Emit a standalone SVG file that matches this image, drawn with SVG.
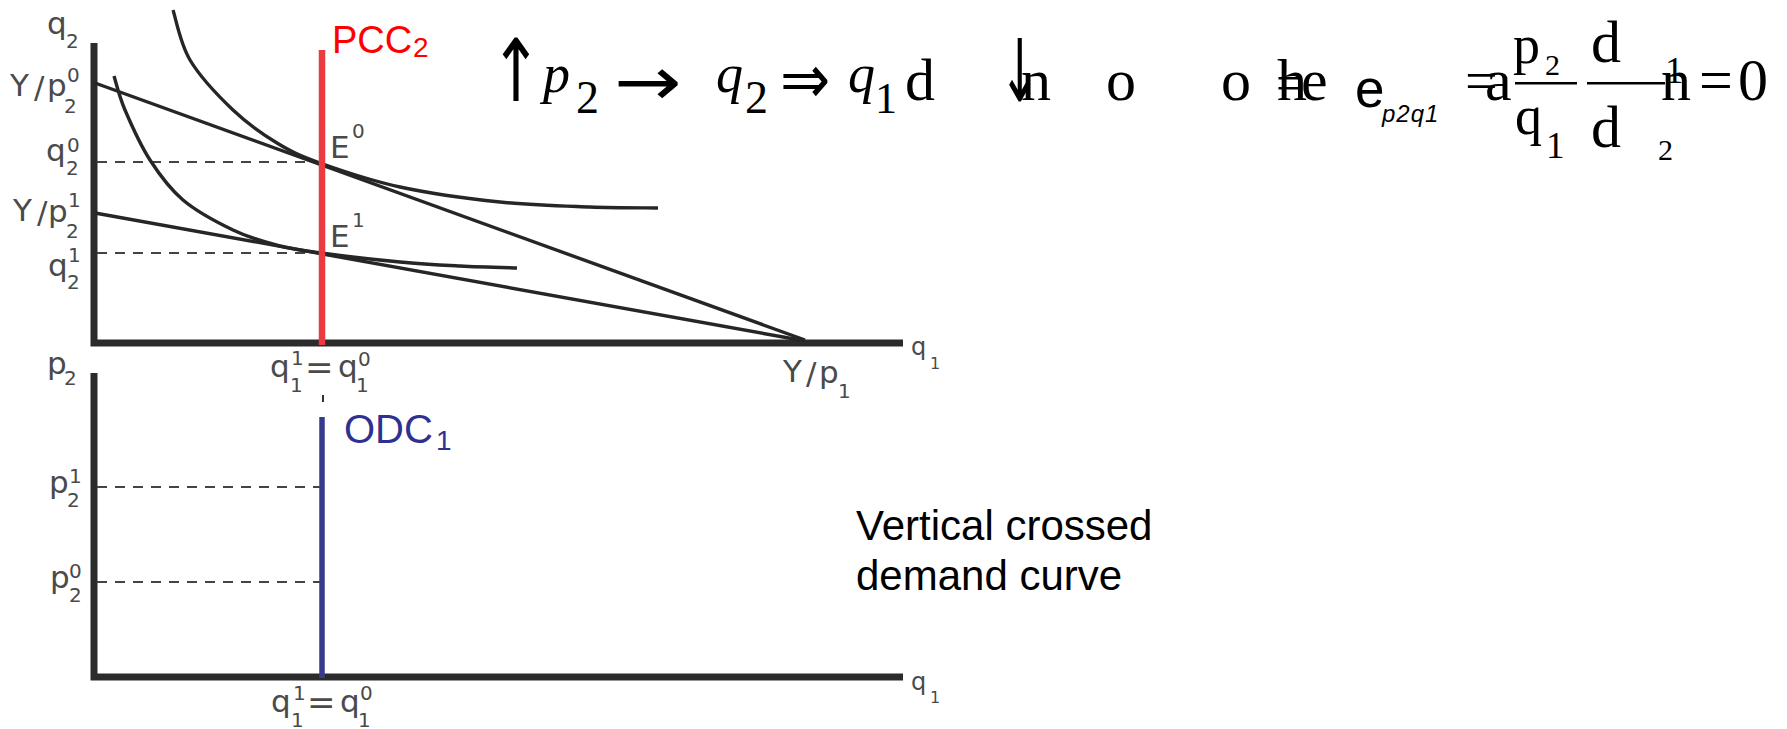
<svg xmlns="http://www.w3.org/2000/svg" width="1787" height="729" viewBox="0 0 1787 729">
<style>
.ax{stroke:#2b2b2b;stroke-width:7;fill:none;stroke-linejoin:miter}
.crv{stroke:#262626;stroke-width:3.4;fill:none}
.dash{stroke:#444;stroke-width:2.2;stroke-dasharray:10 8;fill:none}
.lbl{font-family:"DejaVu Sans",sans-serif;font-size:31px;fill:#4a4a4a}
.sm{font-size:20px}
.ax-l{font-family:"DejaVu Sans",sans-serif;font-size:24px;fill:#4a4a4a}
.ax-s{font-size:16px}
.eq{font-family:"Liberation Serif","Times New Roman","DejaVu Serif",serif;fill:#000}
.it{font-style:italic}
.eqs{font-family:"Liberation Sans",Arial,sans-serif;fill:#000}
.arr{font-family:"DejaVu Sans",sans-serif;font-weight:normal}
</style>
<rect width="1787" height="729" fill="#fff"/>

<g id="upper-axes">
<path class="ax" d="M94,43 L94,343 L903,343"/>
</g>
<g id="lower-axes">
<path class="ax" d="M94,373 L94,677 L903,677"/>
</g>

<g id="connectors">
<line class="dash" x1="97" y1="162" x2="320" y2="162"/>
<line class="dash" x1="97" y1="253" x2="320" y2="253"/>
<line class="dash" x1="97" y1="487" x2="320" y2="487"/>
<line class="dash" x1="97" y1="582" x2="320" y2="582"/>
<line x1="95" y1="83" x2="805" y2="340" class="crv"/>
<line x1="95" y1="213" x2="800" y2="340" class="crv"/>
<path class="crv" d="M173,10 C175.8,18.3 180,43.3 190,60 C200,76.7 218.5,96.2 233,110 C247.5,123.8 262.5,134.2 277,143 C291.5,151.8 299.5,155.7 320,163 C340.5,170.3 370,180.5 400,187 C430,193.5 468.3,198.7 500,202 C531.7,205.3 563.7,206 590,207 C616.3,208 646.7,207.8 658,208"/>
<path class="crv" d="M114,76 C115.8,81.7 119,96 125,110 C131,124 140.3,145 150,160 C159.7,175 169.2,188.3 183,200 C196.8,211.7 217.2,222.4 233,230 C248.8,237.6 263.3,241.7 278,245.5 C292.7,249.3 300.7,250.25 321,253 C341.3,255.75 376.8,259.8 400,262 C423.2,264.2 440.5,265 460,266 C479.5,267 507.5,267.7 517,268"/>
<line x1="322" y1="50" x2="322" y2="345" stroke="#ec3b40" stroke-width="6.5"/>
<line x1="323" y1="395" x2="323" y2="402" stroke="#333" stroke-width="2"/>
<line x1="322" y1="417" x2="322" y2="678" stroke="#363b8c" stroke-width="5.5"/>
</g>

<g id="label-q2-axis" class="lbl">
<text x="47" y="34">q</text><text x="66" y="48" class="sm">2</text>
</g>
<g id="label-Y-p2-0" class="lbl">
<text x="10" y="96">Y</text><text x="34" y="98">/</text><text x="47" y="96">p</text>
<text x="64" y="113" class="sm">2</text><text x="67" y="82" class="sm">0</text>
</g>
<g id="label-q2-0" class="lbl">
<text x="46" y="161">q</text><text x="66" y="175" class="sm">2</text><text x="67" y="152" class="sm">0</text>
</g>
<g id="label-Y-p2-1" class="lbl">
<text x="13" y="221">Y</text><text x="37" y="223">/</text><text x="48" y="222">p</text>
<text x="66" y="238" class="sm">2</text><text x="68" y="207" class="sm">1</text>
</g>
<g id="label-q2-1" class="lbl">
<text x="48" y="276">q</text><text x="67" y="289" class="sm">2</text><text x="68" y="262" class="sm">1</text>
</g>
<g id="label-E0" class="lbl">
<text x="330" y="158">E</text><text x="352" y="138" class="sm">0</text>
</g>
<g id="label-E1" class="lbl">
<text x="330" y="247">E</text><text x="352" y="227" class="sm">1</text>
</g>
<g id="label-PCC2">
<text x="332" y="53" font-family="Liberation Sans, Arial, sans-serif" font-size="38" fill="#ff0000">PCC</text>
<text x="413" y="57" font-family="Liberation Sans, Arial, sans-serif" font-size="28" fill="#ff0000">2</text>
</g>
<g id="label-q1-eq-upper" class="lbl">
<text x="270" y="377">q</text><text x="290" y="392" class="sm">1</text><text x="291" y="365" class="sm">1</text>
<text x="305" y="379" font-size="34">=</text>
<text x="338" y="377">q</text><text x="356" y="392" class="sm">1</text><text x="358" y="366" class="sm">0</text>
</g>
<g id="label-Y-p1" class="lbl">
<text x="783" y="382">Y</text><text x="806" y="384">/</text><text x="819" y="383">p</text>
<text x="838" y="398" class="sm">1</text>
</g>
<g id="label-q1-axis-upper">
<text x="911" y="355" class="ax-l">q</text><text x="930" y="369" class="ax-l ax-s">1</text>
</g>

<g id="label-p2-axis" class="lbl">
<text x="47" y="374">p</text><text x="64" y="385" class="sm">2</text>
</g>
<g id="label-p2-1" class="lbl">
<text x="49" y="493">p</text><text x="67" y="507" class="sm">2</text><text x="69" y="483" class="sm">1</text>
</g>
<g id="label-p2-0" class="lbl">
<text x="50" y="588">p</text><text x="69" y="602" class="sm">2</text><text x="69" y="578" class="sm">0</text>
</g>
<g id="label-ODC1">
<text x="344" y="443" font-family="Liberation Sans, Arial, sans-serif" font-size="40" fill="#2e3192">ODC</text>
<text x="436" y="450" font-family="Liberation Sans, Arial, sans-serif" font-size="28" fill="#2e3192">1</text>
</g>
<g id="label-q1-eq-lower" class="lbl">
<text x="271" y="712">q</text><text x="291" y="727" class="sm">1</text><text x="293" y="700" class="sm">1</text>
<text x="307" y="714" font-size="34">=</text>
<text x="340" y="712">q</text><text x="358" y="727" class="sm">1</text><text x="360" y="700" class="sm">0</text>
</g>
<g id="label-q1-axis-lower">
<text x="911" y="690" class="ax-l">q</text><text x="930" y="703" class="ax-l ax-s">1</text>
</g>

<g id="note">
<text font-family="Liberation Sans, Arial, sans-serif" font-size="42" fill="#000"><tspan x="856" y="540">Vertical crossed</tspan><tspan x="856" y="590">demand curve</tspan></text>
</g>

<g id="equation" class="eq">
<text transform="translate(490,101) scale(1,1.4)" font-size="62" class="arr">↑</text>
<text x="543" y="92" font-size="54" class="it">p</text>
<text x="576" y="113" font-size="46">2</text>
<text transform="translate(614,105) scale(1.3,1.1)" font-size="62" class="arr">→</text>
<text x="716" y="92" font-size="54" class="it">q</text>
<text x="745" y="113" font-size="46">2</text>
<text transform="translate(780,103) scale(1,1.15)" font-size="60" class="arr">⇒</text>
<text x="848" y="92" font-size="54" class="it">q</text>
<text x="875" y="113" font-size="44">1</text>
<text x="905" y="100" font-size="60">d</text>
<text transform="translate(999,101) scale(0.8,1.4)" font-size="62" class="arr">↓</text>
<text x="1021" y="100" font-size="60">n</text>
<text x="1106" y="100" font-size="60">o</text>
<text x="1221" y="100" font-size="60">o</text>
<text x="1277" y="100" font-size="60">h</text>
<text x="1301" y="100" font-size="60">e</text>
<text x="1276" y="100" font-size="50">=</text>
<text x="1355" y="107" font-size="53" class="eqs">e</text>
<text x="1382" y="122" font-size="24" class="eqs it" letter-spacing="1">p2q1</text>
<text x="1465" y="100" font-size="58">=</text>
<text x="1485" y="100" font-size="60">a</text>
<text x="1513" y="63" font-size="54">p</text>
<text x="1545" y="75" font-size="30">2</text>
<rect x="1515" y="82" width="62" height="2.5"/>
<text x="1515" y="134" font-size="54">q</text>
<text x="1546" y="158" font-size="37">1</text>
<text x="1591" y="62" font-size="60">d</text>
<rect x="1587" y="82" width="78" height="2.5"/>
<text x="1591" y="147" font-size="60">d</text>
<text x="1658" y="160" font-size="30">2</text>
<text x="1665" y="83" font-size="37">1</text>
<text x="1661" y="100" font-size="60">n</text>
<text x="1699" y="100" font-size="60">=</text>
<text x="1738" y="100" font-size="60">0</text>
</g>
</svg>
